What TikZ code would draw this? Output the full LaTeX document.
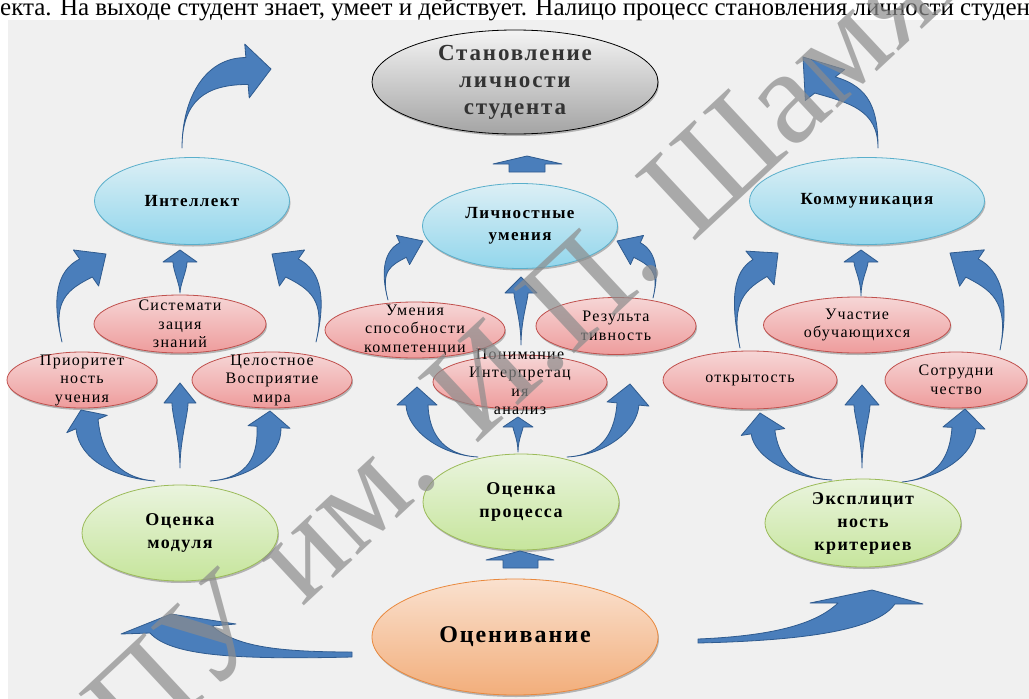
\documentclass[tikz,border=0pt]{standalone}
\usepackage{fontspec}
\setmainfont{Liberation Serif}
\newfontfamily\widefont[LetterSpace=8]{Liberation Serif}
\usetikzlibrary{calc,shadows,shapes.geometric}
\definecolor{bgc}{HTML}{F0F0F0}
\definecolor{arrf}{HTML}{4A7EBB}
\definecolor{arrd}{HTML}{2F5B8F}
\definecolor{blt}{HTML}{DCEFF5}
\definecolor{blb}{HTML}{92D6EC}
\definecolor{bld}{HTML}{5AAFCB}
\definecolor{pkt}{HTML}{F6D6D6}
\definecolor{pkb}{HTML}{EE9C9C}
\definecolor{pkd}{HTML}{C0504D}
\definecolor{gnt}{HTML}{EAF4DE}
\definecolor{gnb}{HTML}{C6E59C}
\definecolor{gnd}{HTML}{9BBB59}
\definecolor{ort}{HTML}{FAE1CF}
\definecolor{orb}{HTML}{F2AE7B}
\definecolor{ord}{HTML}{E9893E}
\definecolor{gyt}{HTML}{F4F4F4}
\definecolor{gyb}{HTML}{A4A4A4}
\tikzset{
  ell/.style={ellipse, inner sep=0pt, line width=0.8pt,
    drop shadow={shadow xshift=1pt, shadow yshift=-2pt, opacity=0.25, fill=black}},
  blueell/.style={ell, draw=bld, top color=blt, bottom color=blb},
  pinkell/.style={ell, draw=pkd, top color=pkt, bottom color=pkb},
  greenell/.style={ell, draw=gnd, top color=gnt, bottom color=gnb},
  orangeell/.style={ell, draw=ord, top color=ort, bottom color=orb},
  grayell/.style={ell, draw=black, top color=gyt, bottom color=gyb},
  lblb/.style={align=center, inner sep=0pt, font=\widefont\bfseries\fontsize{17}{22}\selectfont},
  lblp/.style={align=center, inner sep=0pt, font=\widefont\fontsize{16}{18.5}\selectfont},
  lblg/.style={align=center, inner sep=0pt, font=\widefont\bfseries\fontsize{18}{23}\selectfont},
  arr/.style={fill=arrf, draw=arrd, line width=0.8pt, line join=round},
}
\newcommand\barr[7]{%
  \coordinate (bT) at #1;
  \coordinate (bB) at #4;
  \coordinate (bP) at #5;
  \coordinate (bL) at ($(bB)!#6!90:(bP)$);
  \coordinate (bR) at ($(bB)!#6!-90:(bP)$);
  \coordinate (hL) at ($(bB)!#7!90:(bP)$);
  \coordinate (hR) at ($(bB)!#7!-90:(bP)$);
  \path[arr] (bT) .. controls #2 and ($#3+(bL)-(bB)$) .. (bL) -- (hL) -- (bP) -- (hR) -- (bR)
     .. controls ($#3+(bR)-(bB)$) and #2 .. (bT) -- cycle;
}
\begin{document}
\begin{tikzpicture}[x=1pt,y=-1pt]
\useasboundingbox (0,0) rectangle (1029,699);
\begin{scope}
\clip (0,0) rectangle (1029,699);
\fill[bgc] (8,20) rectangle (1029,699);
\node[anchor=base west, inner sep=0pt, font=\fontsize{25}{30}\selectfont] (toptext) at (0,15)
  {екта. На выходе студент знает, умеет и действует. Налицо процесс становления личности студента.};

% ellipses
\node[grayell, minimum width=286pt, minimum height=104pt,
  label={[align=center, inner sep=0pt, text=black!80, font=\widefont\bfseries\fontsize{23}{27}\selectfont]center:{Становление\\личности\\студента}}] (nSt) at (515,82) {};
\node[blueell, minimum width=195pt, minimum height=87pt, label={[lblb]center:{Интеллект}}] (nInt) at (192,201) {};
\node[blueell, minimum width=195pt, minimum height=85pt, label={[lblb]center:{Личностные\\умения}}] (nLich) at (520,226) {};
\node[blueell, minimum width=235pt, minimum height=87pt, label={[lblb]center:{Коммуникация}}] (nKom) at (867,201) {};

\node[pinkell, minimum width=172pt, minimum height=58pt, label={[lblp]center:{Системати\\зация\\знаний}}] (nSys) at (180,324) {};
\node[pinkell, minimum width=150pt, minimum height=56pt, label={[lblp]center:{Приоритет\\ность\\учения}}] (nPri) at (82,380) {};
\node[pinkell, minimum width=160pt, minimum height=56pt, label={[lblp]center:{Целостное\\Восприятие\\мира}}] (nTsel) at (272,380) {};
\node[pinkell, minimum width=180pt, minimum height=56pt, label={[lblp]center:{Умения\\способности\\компетенции}}] (nUm) at (415,330) {};
\node[pinkell, minimum width=160pt, minimum height=57pt, label={[lblp]center:{Результа\\тивность}}] (nRez) at (616,326) {};
\node[pinkell, minimum width=174pt, minimum height=54pt] (nPon) at (520,382) {};
\node[pinkell, minimum width=187pt, minimum height=56pt, label={[lblp]center:{Участие\\обучающихся}}] (nUch) at (857,325) {};
\node[pinkell, minimum width=174pt, minimum height=58pt, label={[lblp]center:{открытость}}] (nOtk) at (750,380) {};
\node[pinkell, minimum width=142pt, minimum height=56pt, label={[lblp]center:{Сотрудни\\чество}}] (nSot) at (956,380) {};

\node[greenell, minimum width=196pt, minimum height=96pt, label={[lblg]center:{Оценка\\модуля}}] (nOm) at (180,533) {};
\node[greenell, minimum width=196pt, minimum height=96pt, label={[lblg]center:{Оценка\\процесса}}] (nOp) at (521,502) {};
\node[greenell, minimum width=196pt, minimum height=88pt, label={[lblg]center:{Эксплицит\\ность\\критериев}}] (nEks) at (863,523) {};
\node[orangeell, minimum width=286pt, minimum height=116pt,
  label={[inner sep=0pt, font=\widefont\bfseries\fontsize{24}{28}\selectfont]center:{Оценивание}}] (nOts) at (515,637) {};

% block arrows
\path[arr] (509,172) -- (509,164) -- (493,164) -- (527,156) -- (562,164) -- (545,164) -- (545,172) -- cycle;
\path[arr] (503,568) -- (503,560) -- (486,560) -- (520,551) -- (554,560) -- (538,560) -- (538,568) -- cycle;

% curved arrows
\barr{(182,148)}{(182,100)}{(205,71)}{(247,71)}{(271,69)}{13.5pt}{27pt}
\barr{(62,342)}{(52,300)}{(62,280)}{(86,268)}{(106,254)}{11pt}{22pt}
\barr{(180,293)}{(180,285)}{(180,270)}{(180,262)}{(180,250)}{7pt}{17pt}
\barr{(316,342)}{(326,300)}{(316,280)}{(292,268)}{(272,254)}{11pt}{22pt}
\barr{(155,481)}{(115,478)}{(90,455)}{(87,424)}{(81,410)}{12pt}{22pt}
\barr{(180,468)}{(180,440)}{(180,415)}{(180,403)}{(180,383)}{8pt}{16pt}
\barr{(210,481)}{(250,478)}{(270,455)}{(269,427)}{(270,411)}{12pt}{21pt}
\barr{(388,300)}{(380,270)}{(388,258)}{(403,250)}{(423,241)}{8pt}{16pt}
\barr{(521,345)}{(521,320)}{(521,300)}{(521,293)}{(521,277)}{7pt}{16pt}
\barr{(653,298)}{(660,270)}{(652,258)}{(637,250)}{(617,241)}{8pt}{16pt}
\barr{(478,457)}{(440,455)}{(418,430)}{(417,405)}{(417,387)}{11pt}{20pt}
\barr{(518,452)}{(518,440)}{(518,430)}{(518,427)}{(518,417)}{5pt}{15pt}
\barr{(567,457)}{(605,455)}{(626,430)}{(628,404)}{(630,384)}{11pt}{21pt}
\barr{(878,148)}{(878,110)}{(860,95)}{(825,85)}{(803,57)}{13pt}{25pt}
\barr{(740,348)}{(730,300)}{(740,280)}{(760,268)}{(778,253)}{11pt}{22pt}
\barr{(861,296)}{(861,280)}{(861,268)}{(861,262)}{(861,250)}{7pt}{17pt}
\barr{(1000,350)}{(1010,300)}{(995,280)}{(972,268)}{(950,253)}{11pt}{22pt}
\barr{(832,480)}{(790,478)}{(766,455)}{(763,432)}{(760,413)}{12pt}{22pt}
\barr{(862,468)}{(862,440)}{(862,415)}{(862,405)}{(862,385)}{8pt}{17pt}
\barr{(902,482)}{(940,478)}{(962,455)}{(964,428)}{(965,409)}{12pt}{21pt}

% bottom wide arrows
\path[arr] (352,652) .. controls (270,652) and (235,645) .. (212,626) -- (236,624) -- (171,614)
  -- (121,634) -- (150,633) .. controls (170,655) and (230,660) .. (352,657) -- cycle;
\path[arr] (698,639) .. controls (770,636) and (815,625) .. (838,603) -- (810,603) -- (872,590)
  -- (923,604) -- (895,604) .. controls (880,625) and (830,640) .. (698,643) -- cycle;

% overflowing text
\node[lblp] (nPonT) at (520,382) {Понимание\\Интерпретац\\ия\\анализ};

% watermark
\node[rotate=43, anchor=base west, inner sep=0pt, text=black!45, opacity=0.7,
  font=\fontsize{135}{135}\selectfont] (wmark) at (-8,897) {МГПУ им. И.П. Шамякина};
\end{scope}
\end{tikzpicture}
\end{document}
